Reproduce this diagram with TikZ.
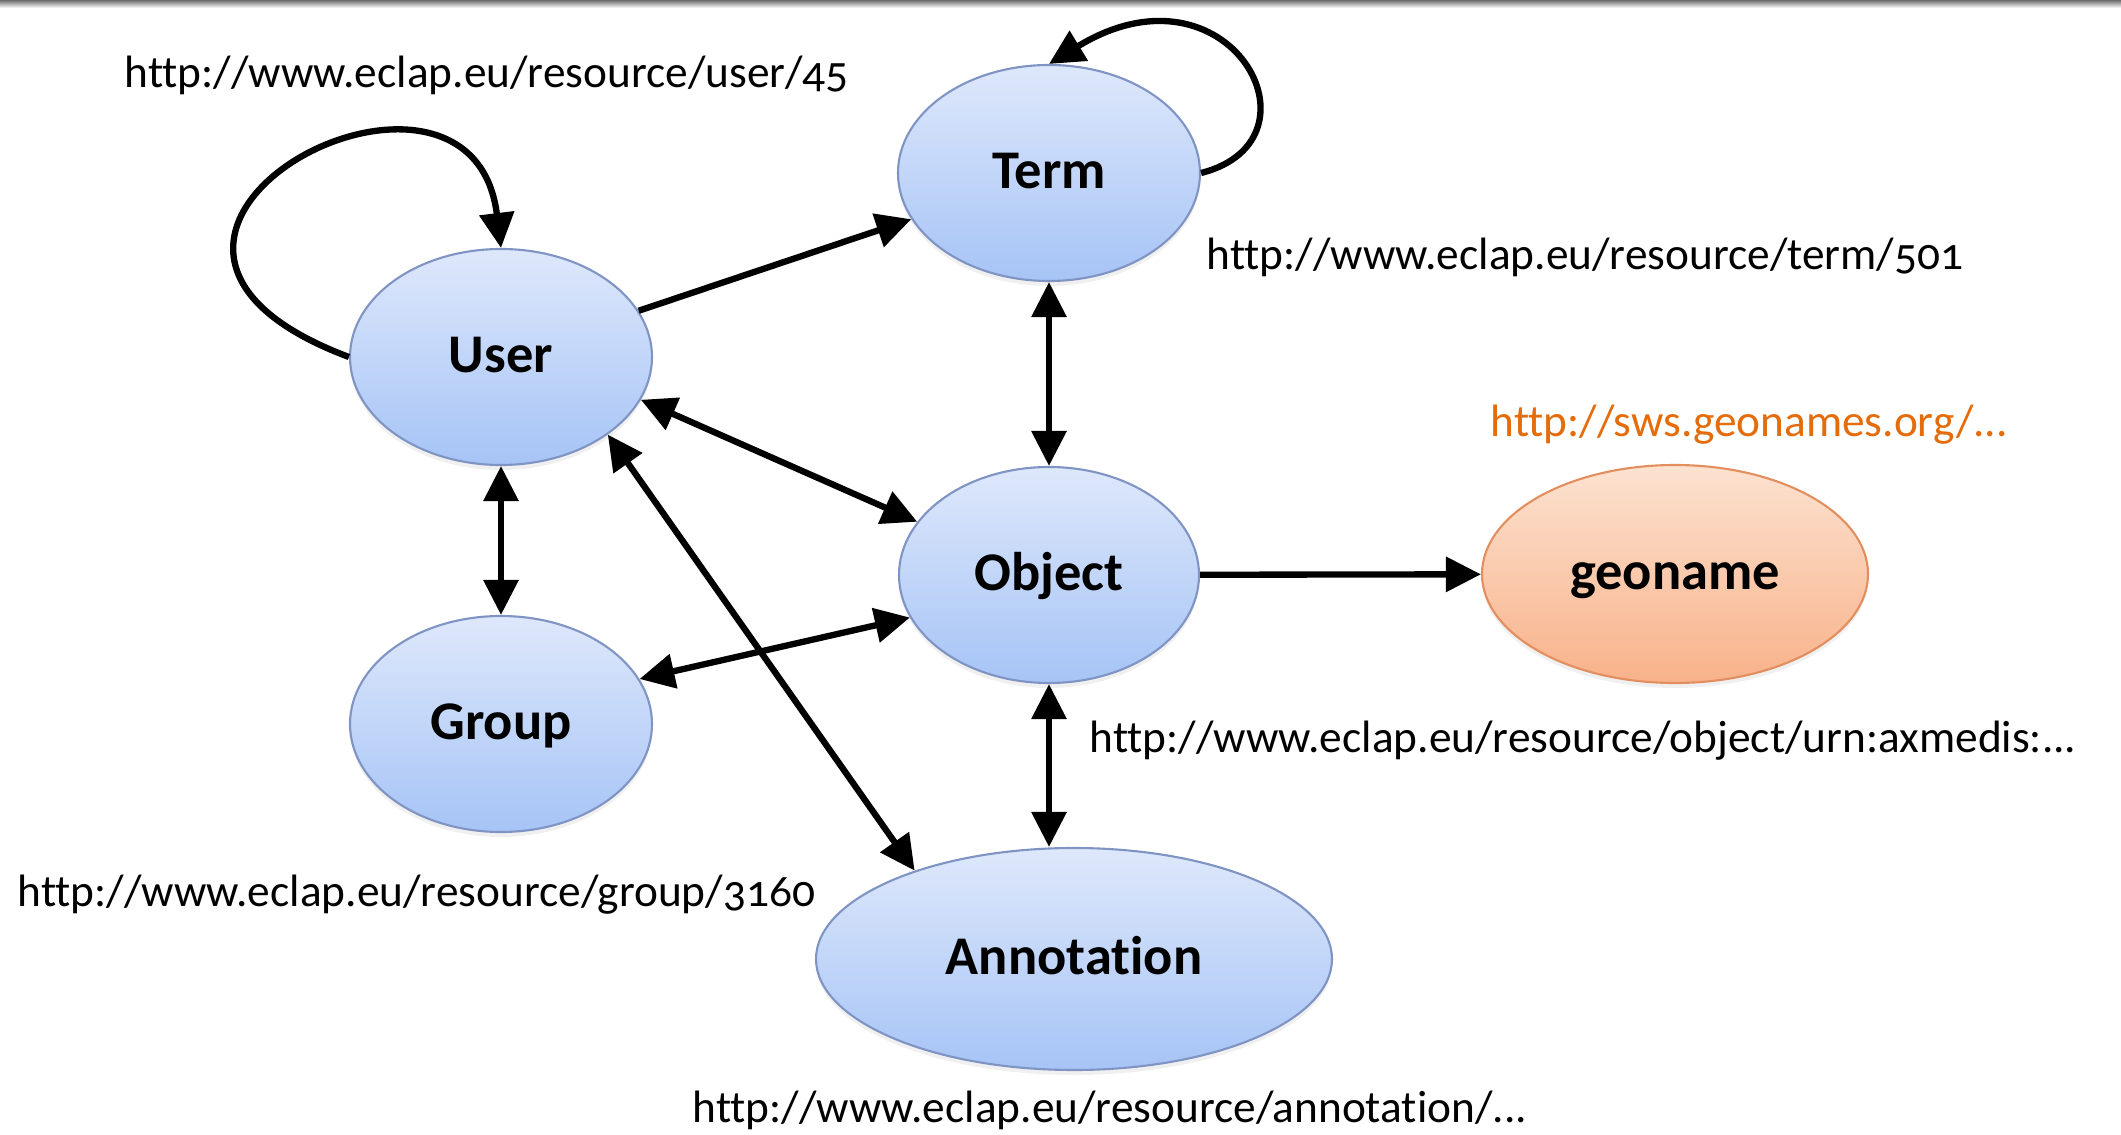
\documentclass[tikz,border=0pt]{standalone}
\usepackage{fontspec}
\setmainfont{Carlito}[Numbers=OldStyle, Ligatures=NoCommon]
\usetikzlibrary{arrows.meta}
\usetikzlibrary{shapes.geometric}
\usetikzlibrary{shadows}
\usetikzlibrary{positioning}

\definecolor{bluetop}{RGB}{222,232,251}
\definecolor{bluebot}{RGB}{166,196,246}
\definecolor{blueline}{RGB}{128,148,196}
\definecolor{orangetop}{RGB}{252,226,208}
\definecolor{orangebot}{RGB}{248,178,138}
\definecolor{orangeline}{RGB}{226,142,94}
\definecolor{geoorange}{RGB}{228,108,10}

\begin{document}
\begin{tikzpicture}[
        class/.style={ellipse, draw=blueline, line width=0.6pt, top color=bluetop, bottom color=bluebot,
            minimum width=30.2mm, minimum height=21.6mm, inner sep=0pt,
            font=\fontsize{15.5}{18}\selectfont\bfseries, text height=1em, text depth=0.12em,
            drop shadow={shadow xshift=0pt, shadow yshift=-0.5mm, opacity=0.12}},
        ext/.style={class, draw=orangeline, top color=orangetop, bottom color=orangebot},
        url/.style={anchor=base west, inner sep=0pt, font=\fontsize{12.9}{15}\selectfont},
        link/.style={line width=1.8pt, -{Triangle[length=3.5mm,width=3.4mm]}},
        both/.style={link, {Triangle[length=3.5mm,width=3.4mm]}-{Triangle[length=3.5mm,width=3.4mm]}},
    ]
    \useasboundingbox (0,0) rectangle (21.21,-11.35);
    \shade[top color=gray!85!black, bottom color=white] (0,0) rectangle (21.21,-0.08);

    % classes
    \node[class] (user) at (5.01,-3.57) {User};
    \node[class] (term) at (10.49,-1.73) {Term};
    \node[class, minimum width=30mm] (object) at (10.49,-5.75) {Object};
    \node[class] (group) at (5.01,-7.24) {Group};
    \node[class, minimum width=51.6mm, minimum height=22.2mm] (annot) at (10.74,-9.59) {Annotation};
    \node[ext, minimum width=38.6mm, minimum height=21.8mm] (geo) at (16.75,-5.74) {geoname};

    % uris
    \node[url] (userurl) at (1.24,-0.88) {http://www.eclap.eu/resource/user/45};
    \node[url] (termurl) at (12.06,-2.70) {http://www.eclap.eu/resource/term/501};
    \node[url, text=geoorange] (geourl) at (14.90,-4.37) {http://sws.geonames.org/...};
    \node[url] (objurl) at (10.89,-7.52) {http://www.eclap.eu/resource/object/urn:axmedis:...};
    \node[url] (groupurl) at (0.17,-9.06) {http://www.eclap.eu/resource/group/3160};
    \node[url] (annoturl) at (6.92,-11.22) {http://www.eclap.eu/resource/annotation/...};

    % relations
    \draw[link] (user.west) .. controls +(-3.2,1.2) and +(-0.3,2.45) .. (user.north);
    \draw[link] (term.east) .. controls +(1.30,0.33) and +(1.80,1.10) .. (term.north);
    \draw[link] (user) -- (term);
    \draw[both] (term) -- (object);
    \draw[both] (user.-17) -- (object.158);
    \draw[both] (user.-36) -- (annot.151);
    \draw[both] (user) -- (group);
    \draw[both] (group.18) -- (object.197);
    \draw[link] (object) -- (geo);
    \draw[both] (object) -- (object |- annot.north);
\end{tikzpicture}
\end{document}
